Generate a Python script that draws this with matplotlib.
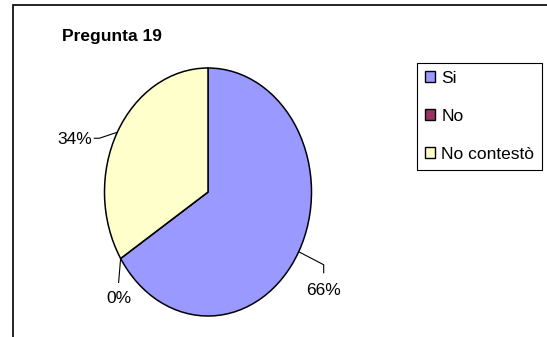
import matplotlib.pyplot as plt
from matplotlib.patches import Rectangle, Patch
from matplotlib.lines import Line2D
import numpy as np

plt.rcParams['font.family'] = ['Liberation Sans', 'DejaVu Sans']

# Datos
titulo = "Pregunta 19"
categorias = ["Si", "No", "No contestò"]
valores = [66, 0, 34]
etiquetas = ["66%", "0%", "34%"]
colores = ["#9999FF", "#993366", "#FFFFCC"]

W, H = 547, 337
fig = plt.figure(figsize=(W / 100, H / 100), dpi=100)

# marco del gráfico (solo se ven los bordes superior e izquierdo)
fig.patches.append(Rectangle((13 / W, -0.1), 1.2, 1.1 - 5 / H, transform=fig.transFigure,
                             fill=False, edgecolor="black", linewidth=1.2))

fig.text(62 / W, 1 - 36 / H, titulo, fontsize=12.5, fontweight="bold", va="center", ha="left")

# pie elíptico: ejes sin aspecto igual
ax = fig.add_axes([104.5 / W, (H - 316) / H, 207 / W, 248 / H])
wedges, _ = ax.pie(valores, colors=colores, startangle=90, counterclock=False,
                   wedgeprops=dict(edgecolor="black", linewidth=1.1))
ax.set_aspect("auto")
ax.set_xlim(-1, 1)
ax.set_ylim(-1, 1)
ax.axis("off")

# líneas guía y etiquetas (desplazamientos en píxeles, y hacia abajo)
guias = {
    "66%": dict(codo=(25, 13), fin=(25, 21), texto=(25, 31), ha="center", va="top"),
    "0%": dict(codo=(-1, 12), fin=(-2, 24), texto=(-2, 33), ha="center", va="top"),
    "34%": dict(codo=(-18, 6), fin=(-23, 6), texto=(-25, 7), ha="right", va="center"),
}
for w, et in zip(wedges, etiquetas):
    ang = np.deg2rad((w.theta1 + w.theta2) / 2)
    px, py = ax.transData.transform((np.cos(ang), np.sin(ang)))
    g = guias[et]
    xs = [px, px + g["codo"][0], px + g["fin"][0]]
    ys = [py, py - g["codo"][1], py - g["fin"][1]]
    fig.lines.append(Line2D(xs, ys, transform=None, color="black", linewidth=0.8))
    fig.text(px + g["texto"][0], py - g["texto"][1], et, transform=None,
             fontsize=12.5, ha=g["ha"], va=g["va"])

# leyenda
handles = [Patch(facecolor=c, edgecolor="black", linewidth=1.0) for c in colores]
leg = fig.legend(handles, categorias, loc="upper right", bbox_to_anchor=(542 / W, 1 - 63 / H),
                 bbox_transform=fig.transFigure, borderaxespad=0, fontsize=12.5,
                 handlelength=0.6, handleheight=0.6, handletextpad=0.35,
                 labelspacing=1.33, borderpad=0.45, fancybox=False, framealpha=1)
leg.get_frame().set_edgecolor("black")
leg.get_frame().set_linewidth(0.8)

fig.savefig("out.png", dpi=100)
